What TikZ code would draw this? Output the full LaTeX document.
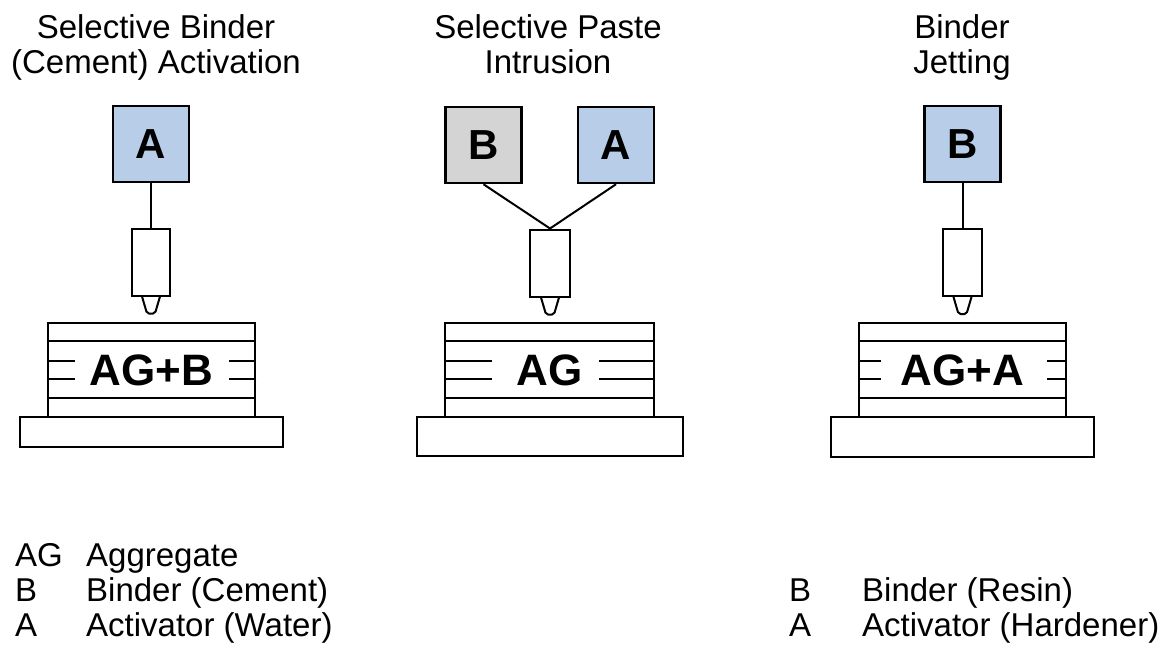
\documentclass[tikz,border=0pt]{standalone}
\usepackage{fontspec}
\setmainfont{Liberation Sans}
\usetikzlibrary{calc}
\definecolor{boxblue}{RGB}{184,206,232}
\definecolor{boxgray}{RGB}{212,212,212}
\begin{document}
\begin{tikzpicture}[x=1pt,y=-1pt,line join=miter,
  title/.style={font=\fontsize{33}{35}\selectfont, align=center, inner sep=0pt, anchor=north},
  inbox/.style={draw, line width=2.5pt, minimum width=76pt, minimum height=76pt, inner sep=0pt, font=\fontsize{42}{42}\selectfont\bfseries},
  nozzle/.style={draw, line width=2pt, minimum width=38pt, minimum height=67pt, inner sep=0pt, fill=white},
  stack/.style={draw, line width=2.5pt, inner sep=0pt, minimum height=94pt, font=\fontsize{44}{44}\selectfont\bfseries},
  plate/.style={draw, line width=2.5pt, inner sep=0pt},
  feed/.style={line width=2pt},
  layer/.style={line width=2.5pt},
  tipline/.style={line width=2pt, rounded corners=2pt},
  legend/.style={font=\fontsize{33}{33}\selectfont, inner sep=0pt, anchor=base west}]
\useasboundingbox (0,0) rectangle (1165,648);

% ---------- Titles ----------
\node[title] (t1) at (156,14) {Selective Binder\\(Cement) Activation};
\node[title] (t2) at (548,14) {Selective Paste\\Intrusion};
\node[title] (t3) at (962,14) {Binder\\Jetting};

% ---------- Panel 1 ----------
\node[inbox, fill=boxblue] (a1) at (151,144) {A};
\node[nozzle] (n1) at (151,262) {};
\draw[feed] (a1.south) -- (n1.north);
\draw[tipline] ($(n1.south)+(-9,0)$) -- ++(5,17) -- ++(8,0) -- ++(5,-17);
\node[stack, minimum width=207pt] (s1) at (151.5,370) {AG+B};
\node[plate, minimum width=263pt, minimum height=30pt] (p1) at (151.5,432) {};
\draw[layer] ($(s1.north west)+(0,19)$) -- ($(s1.north east)+(0,19)$);
\draw[layer] ($(s1.north west)+(0,76)$) -- ($(s1.north east)+(0,76)$);
\draw[layer] ($(s1.north west)+(0,39)$) -- +(28,0);
\draw[layer] ($(s1.north west)+(0,57)$) -- +(28,0);
\draw[layer] ($(s1.north east)+(0,39)$) -- +(-27,0);
\draw[layer] ($(s1.north east)+(0,57)$) -- +(-27,0);

% ---------- Panel 2 ----------
\node[inbox, fill=boxgray] (b2) at (483.5,145) {B};
\node[inbox, fill=boxblue] (a2) at (616,145) {A};
\node[nozzle, minimum width=40pt] (n2) at (550,263) {};
\draw[feed] (b2.south) -- (n2.north);
\draw[feed] (a2.south) -- (n2.north);
\draw[tipline] ($(n2.south)+(-9,0)$) -- ++(5,17) -- ++(8,0) -- ++(5,-17);
\node[stack, minimum width=209pt] (s2) at (549.5,370) {AG};
\node[plate, minimum width=266pt, minimum height=39pt] (p2) at (550,436.5) {};
\draw[layer] ($(s2.north west)+(0,19)$) -- ($(s2.north east)+(0,19)$);
\draw[layer] ($(s2.north west)+(0,76)$) -- ($(s2.north east)+(0,76)$);
\draw[layer] ($(s2.north west)+(0,39)$) -- +(48,0);
\draw[layer] ($(s2.north west)+(0,57)$) -- +(48,0);
\draw[layer] ($(s2.north east)+(0,39)$) -- +(-56,0);
\draw[layer] ($(s2.north east)+(0,57)$) -- +(-56,0);

% ---------- Panel 3 ----------
\node[inbox, fill=boxblue] (b3) at (962.5,144) {B};
\node[nozzle, minimum width=39pt] (n3) at (962.5,262.5) {};
\draw[feed] (b3.south) -- (n3.north);
\draw[tipline] ($(n3.south)+(-9,0)$) -- ++(5,17) -- ++(8,0) -- ++(5,-17);
\node[stack, minimum width=207pt] (s3) at (962.5,370) {AG+A};
\node[plate, minimum width=263pt, minimum height=40pt] (p3) at (962.5,437) {};
\draw[layer] ($(s3.north west)+(0,19)$) -- ($(s3.north east)+(0,19)$);
\draw[layer] ($(s3.north west)+(0,76)$) -- ($(s3.north east)+(0,76)$);
\draw[layer] ($(s3.north west)+(0,39)$) -- +(23,0);
\draw[layer] ($(s3.north west)+(0,57)$) -- +(23,0);
\draw[layer] ($(s3.north east)+(0,39)$) -- +(-20,0);
\draw[layer] ($(s3.north east)+(0,57)$) -- +(-20,0);

% ---------- Legends ----------
\node[legend] (lag) at (15,566) {AG};
\node[legend] (lagt) at (86,566) {Aggregate};
\node[legend] (lb) at (15,601) {B};
\node[legend] (lbt) at (86,601) {Binder (Cement)};
\node[legend] (la) at (15,636) {A};
\node[legend] (lat) at (86,636) {Activator (Water)};

\node[legend] (rb) at (789,601) {B};
\node[legend] (rbt) at (862,601) {Binder (Resin)};
\node[legend] (ra) at (789,636) {A};
\node[legend] (rat) at (862,636) {Activator (Hardener)};
\end{tikzpicture}
\end{document}
